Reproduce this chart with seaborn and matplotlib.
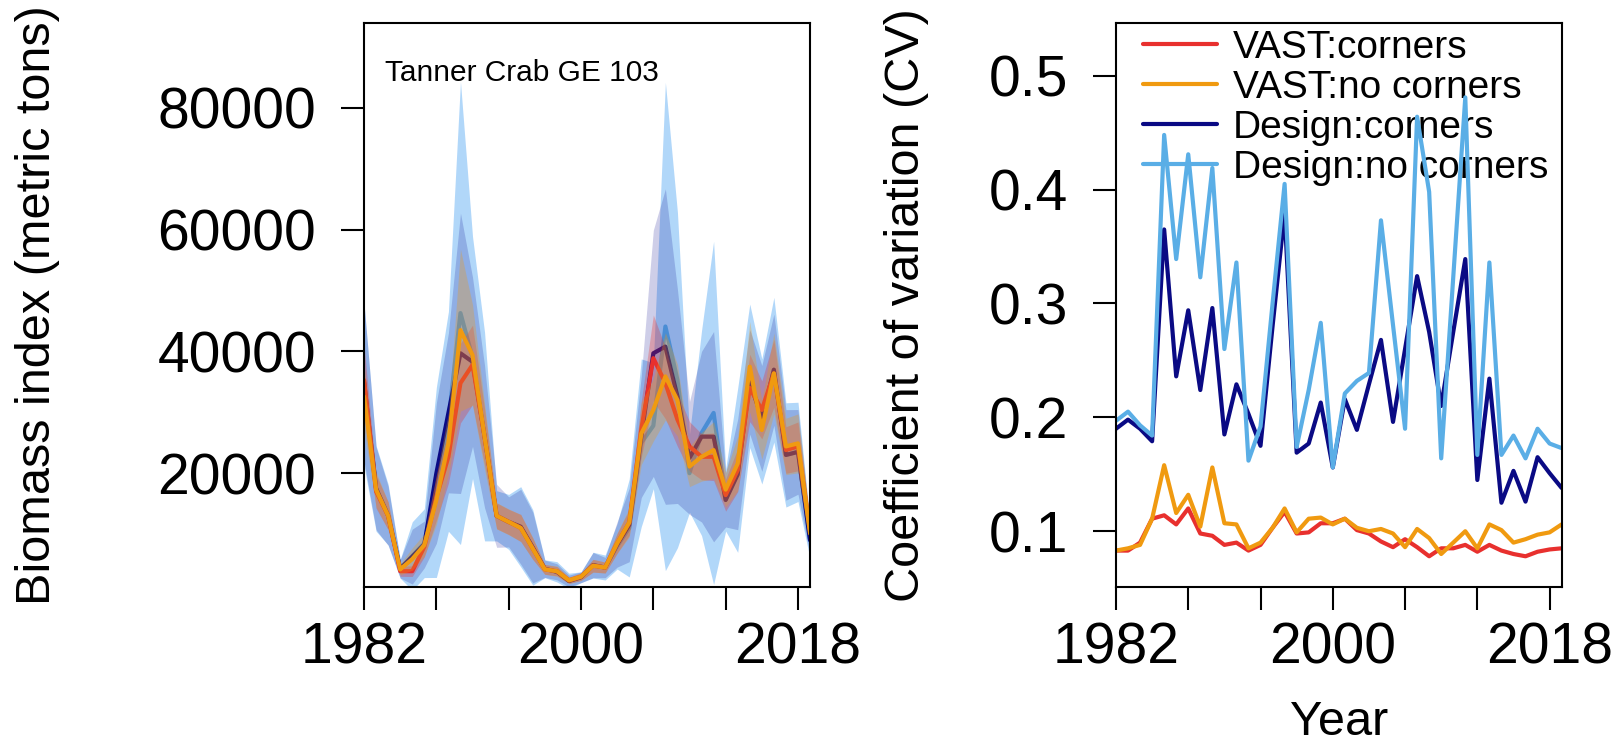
import numpy as np
import pandas as pd
import matplotlib
matplotlib.use("Agg")
import matplotlib.pyplot as plt
import seaborn as sns

# ---- data -------------------------------------------------------------
years = list(range(1982, 2020))

# biomass index (metric tons)
biomass_vast_corners = [35300, 17000, 13000, 3900, 3900, 7900, 16000, 22700, 34800, 37800,
                        26000, 13000, 12000, 11000, 7600, 4200, 3900, 2400, 3000, 4800,
                        4500, 8500, 11900, 27200, 38900, 34800, 28800, 24400, 22700, 22700,
                        16400, 20500, 34000, 30400, 36400, 23800, 24400, 10700]
biomass_vast_no_corners = [32600, 17300, 13000, 4200, 5900, 8200, 15600, 24900, 43500, 39400,
                           26000, 13000, 12000, 11000, 7600, 4200, 3900, 2400, 3000, 4800,
                           4500, 8500, 11900, 26500, 30400, 35900, 32000, 21100, 22700, 23800,
                           17300, 21600, 37500, 27100, 36400, 24400, 24900, 10100]
biomass_design_corners = [35000, 17500, 13000, 4300, 6300, 8300, 20000, 29900, 39700, 38300,
                          26000, 13000, 12000, 11200, 7800, 4300, 3800, 2300, 2900, 4900,
                          4500, 8300, 11500, 26000, 39700, 40800, 32600, 22500, 26000, 26000,
                          15600, 19800, 35000, 29000, 37000, 23000, 23500, 9000]
biomass_design_no_corners = [34500, 17500, 13200, 4300, 6400, 8500, 18500, 28500, 46300, 39000,
                             26000, 13000, 12000, 11200, 7800, 4300, 3800, 2300, 2900, 4900,
                             4500, 8000, 11000, 25000, 27800, 44100, 35300, 20000, 26600, 29900,
                             15600, 20500, 36000, 28500, 37000, 23000, 23500, 9000]

# coefficient of variation
cv_vast_corners = [0.083, 0.083, 0.090, 0.111, 0.114, 0.106, 0.120, 0.098, 0.096, 0.088,
                   0.090, 0.083, 0.088, 0.103, 0.117, 0.098, 0.099, 0.107, 0.107, 0.111,
                   0.101, 0.098, 0.091, 0.086, 0.093, 0.086, 0.078, 0.085, 0.085, 0.088,
                   0.082, 0.088, 0.083, 0.080, 0.078, 0.082, 0.084, 0.085]
cv_vast_no_corners = [0.083, 0.085, 0.088, 0.111, 0.158, 0.116, 0.132, 0.104, 0.156, 0.107,
                      0.106, 0.085, 0.090, 0.103, 0.120, 0.099, 0.111, 0.112, 0.106, 0.111,
                      0.103, 0.100, 0.102, 0.098, 0.086, 0.102, 0.094, 0.080, 0.090, 0.100,
                      0.085, 0.106, 0.101, 0.090, 0.093, 0.097, 0.099, 0.106]
cv_design_corners = [0.190, 0.198, 0.190, 0.179, 0.365, 0.236, 0.294, 0.224, 0.296, 0.185,
                     0.229, 0.203, 0.175, 0.280, 0.380, 0.169, 0.177, 0.213, 0.156, 0.216,
                     0.189, 0.229, 0.268, 0.196, 0.260, 0.324, 0.275, 0.210, 0.275, 0.339,
                     0.145, 0.234, 0.125, 0.153, 0.126, 0.165, 0.151, 0.138]
cv_design_no_corners = [0.197, 0.205, 0.193, 0.184, 0.448, 0.339, 0.431, 0.323, 0.419, 0.260,
                        0.336, 0.162, 0.192, 0.300, 0.405, 0.174, 0.224, 0.283, 0.156, 0.221,
                        0.232, 0.239, 0.373, 0.281, 0.190, 0.464, 0.398, 0.164, 0.323, 0.481,
                        0.167, 0.336, 0.167, 0.184, 0.164, 0.190, 0.177, 0.173]

labels = ["VAST:corners", "VAST:no corners", "Design:corners", "Design:no corners"]
title = "Tanner Crab GE 103"

# ---- styling ----------------------------------------------------------
sns.set_theme(style="white")
plt.rcParams["font.family"] = ["Liberation Sans", "DejaVu Sans"]
plt.rcParams["text.color"] = "black"
plt.rcParams["axes.labelcolor"] = "black"

line_colors = {
    "VAST:corners": "#E8302E",
    "VAST:no corners": "#F09A10",
    "Design:corners": "#0A0A84",
    "Design:no corners": "#5AAEE6",
}
band_colors = {
    "VAST:corners": ("#E8302E", 0.30),
    "VAST:no corners": ("#F09A10", 0.30),
    "Design:corners": ("#0A0A90", 0.20),
    "Design:no corners": ("#3D9BF2", 0.40),
}

biomass = {
    "VAST:corners": biomass_vast_corners,
    "VAST:no corners": biomass_vast_no_corners,
    "Design:corners": biomass_design_corners,
    "Design:no corners": biomass_design_no_corners,
}
cvs = {
    "VAST:corners": cv_vast_corners,
    "VAST:no corners": cv_vast_no_corners,
    "Design:corners": cv_design_corners,
    "Design:no corners": cv_design_no_corners,
}

LW = 3.0
TICK_FS = 41
LABEL_FS = 35

fig = plt.figure(figsize=(16.23, 7.48), dpi=100)
ax1 = fig.add_axes([0.2243, 0.2152, 0.2748, 0.7536])
ax2 = fig.add_axes([0.6876, 0.2152, 0.2746, 0.7536])

# ---- left: biomass index with 95% intervals ---------------------------
# each series: band then line, later series layered over earlier ones
draw_order = ["Design:no corners", "Design:corners", "VAST:corners", "VAST:no corners"]
for i, name in enumerate(draw_order):
    est = np.array(biomass[name], dtype=float)
    se = est * np.array(cvs[name])
    col, alpha = band_colors[name]
    ax1.fill_between(years, est - 1.96 * se, est + 1.96 * se,
                     color=col, alpha=alpha, linewidth=0, zorder=2 + 2 * i)
    df = pd.DataFrame({"Year": years, "Biomass": est})
    sns.lineplot(data=df, x="Year", y="Biomass", ax=ax1, color=line_colors[name],
                 lw=LW, legend=False, zorder=3 + 2 * i)

ax1.text(0.047, 0.898, title, transform=ax1.transAxes, fontsize=21.5,
         ha="left", va="baseline", color="black", zorder=20)
ax1.set_ylim(1300, 93900)
ax1.set_yticks([20000, 40000, 60000, 80000])
ax1.set_yticklabels(["20000", "40000", "60000", "80000"])
ax1.set_ylabel("Biomass index (metric tons)", fontsize=LABEL_FS, color="black")
ax1.yaxis.set_label_coords(-0.682, 0.5)
ax1.set_xlabel("")

# ---- right: coefficient of variation ----------------------------------
cv_order = ["Design:corners", "Design:no corners", "VAST:corners", "VAST:no corners"]
for name in cv_order:
    df = pd.DataFrame({"Year": years, "CV": cvs[name]})
    sns.lineplot(data=df, x="Year", y="CV", ax=ax2, color=line_colors[name],
                 lw=LW, legend=False, zorder=3)

handles = [plt.Line2D([], [], color=line_colors[n], lw=LW) for n in labels]
leg = ax2.legend(handles, labels, loc="upper left", bbox_to_anchor=(0.061, 0.988),
                 frameon=False, fontsize=28, handlelength=1.9, handletextpad=0.4,
                 labelspacing=0.1, borderpad=0, borderaxespad=0)
for t in leg.get_texts():
    t.set_color("black")
leg.set_zorder(1)

ax2.set_ylim(0.051, 0.546)
ax2.set_yticks([0.1, 0.2, 0.3, 0.4, 0.5])
ax2.set_yticklabels(["0.1", "0.2", "0.3", "0.4", "0.5"])
ax2.set_ylabel("Coefficient of variation (CV)", fontsize=LABEL_FS, color="black")
ax2.yaxis.set_label_coords(-0.42, 0.5)
ax2.set_xlabel("Year", fontsize=LABEL_FS, color="black")
ax2.xaxis.set_label_coords(0.5, -0.2)

# ---- shared axis cosmetics -------------------------------------------
xticks = [1982, 1988, 1994, 2000, 2006, 2012, 2018]
xticklabels = ["1982", "", "", "2000", "", "", "2018"]
for ax in (ax1, ax2):
    ax.set_xlim(1982, 2019)
    ax.set_xticks(xticks)
    ax.set_xticklabels(xticklabels)
    ax.tick_params(axis="both", direction="out", length=16.5, width=1.5,
                   labelsize=TICK_FS, color="black", labelcolor="black",
                   bottom=True, left=True)
    ax.tick_params(axis="x", pad=8)
    ax.tick_params(axis="y", pad=18)
    for sp in ax.spines.values():
        sp.set_visible(True)
        sp.set_color("black")
        sp.set_linewidth(1.5)
        sp.set_zorder(30)
    ax.set_facecolor("white")
    ax.grid(False)

fig.savefig("out.png", dpi=100, facecolor="white")
